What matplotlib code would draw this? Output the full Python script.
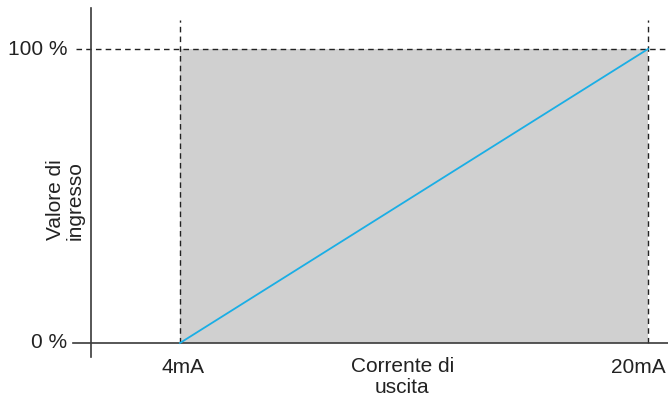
import matplotlib.pyplot as plt

# Dati
corrente = [4, 20]          # mA
valore = [0, 100]           # %
etichette_x = ["4mA", "20mA"]
etichette_y = ["0 %", "100 %"]

plt.rcParams['font.family'] = ['Liberation Sans', 'DejaVu Sans']

fig = plt.figure(figsize=(6.68, 3.96), dpi=100)
ax = fig.add_axes([0, 0, 1, 1])
ax.set_xlim(-2.154, 20.684)
ax.set_ylim(-18.03, 116.67)
ax.axis("off")

grigio = "#d0d0d0"
blu = "#1aaee5"
scuro = "#3a3a3a"
testo = "#222222"

# Area grigia
ax.fill_between(corrente, valore[0], valore[1], color=grigio, lw=0, zorder=1)

# Linee tratteggiate
dash = (0, (4, 3))
for x in corrente:
    ax.plot([x, x], [valore[0], 110], color=testo, lw=1, ls=dash, zorder=2)
ax.plot([0.44, 20.684], [valore[1], valore[1]], color=testo, lw=1, ls=dash, zorder=2)

# Assi
ax.plot([0.96, 0.96], [-4.8, 114], color=scuro, lw=1.2, zorder=3)
ax.plot([0.34, 20.684], [0, 0], color=scuro, lw=1.2, zorder=3)

# Linea di uscita
ax.plot(corrente, valore, color=blu, lw=1.3, zorder=4)

# Etichette
fs = 15
for y, t in zip(valore, etichette_y):
    ax.text(0.14, y, t, ha="right", va="center", fontsize=fs, color=testo)
ax.text(corrente[0] + 0.1, -8.5, etichette_x[0], ha="center", va="center", fontsize=fs, color=testo)
ax.text(corrente[1] - 0.34, -8.5, etichette_x[1], ha="center", va="center", fontsize=fs, color=testo)
ax.text(11.6, -11.6, "Corrente di\nuscita", ha="center", va="center", fontsize=fs,
        color=testo, linespacing=1.1)
ax.text(0.08, 48.6, "Valore di\ningresso", ha="center", va="center", fontsize=fs,
        color=testo, rotation=90, linespacing=1.1)

fig.savefig("out.png", dpi=100)
